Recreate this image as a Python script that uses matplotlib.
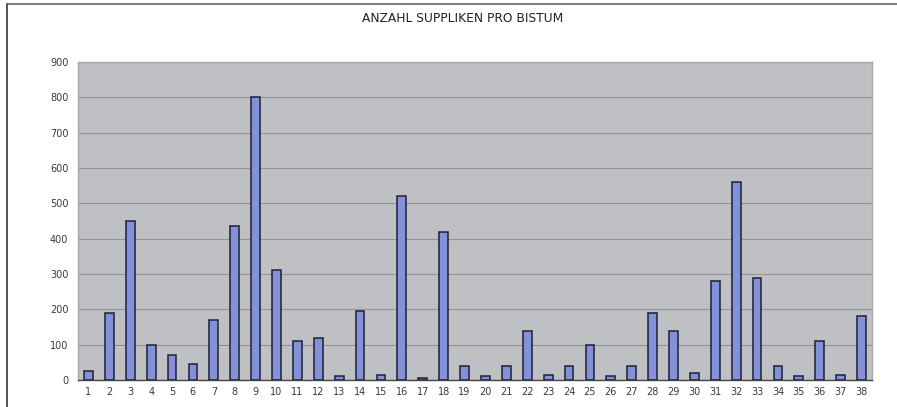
import numpy as np
import matplotlib
matplotlib.use("Agg")
import matplotlib.pyplot as plt
from matplotlib.lines import Line2D

# data
bistum = [str(i) for i in range(1, 39)]
suppliken = [25, 190, 450, 100, 70, 45, 170, 435, 800, 310,
             110, 120, 10, 195, 15, 520, 5, 420, 40, 10,
             40, 140, 15, 40, 100, 10, 40, 190, 140, 20,
             280, 560, 290, 40, 10, 110, 15, 180]
y_ticks = list(range(0, 1000, 100))

W, H = 897, 407
fig = plt.figure(figsize=(W / 100, H / 100), dpi=100)
ax = fig.add_axes([78 / W, (H - 380) / H, 794 / W, 318 / H])

x = np.arange(len(bistum))
ax.set_facecolor("#bfc0c4")
ax.set_axisbelow(True)
ax.yaxis.grid(True, color="#939397", linewidth=0.8)
ax.bar(x, suppliken, width=0.42, color="#8490d8", edgecolor="#1c1f36", linewidth=1.1, zorder=3)

ax.set_xlim(-0.5, len(bistum) - 0.5)
ax.set_ylim(0, 900)
ax.set_xticks(x)
ax.set_xticklabels(bistum)
ax.set_yticks(y_ticks)
ax.tick_params(axis="both", length=0, labelsize=7, colors="#3a3a3a", pad=7)
ax.tick_params(axis="x", pad=5)

for side in ["top", "right", "left"]:
    ax.spines[side].set_color("#a8a8a8")
    ax.spines[side].set_linewidth(1.0)
ax.spines["bottom"].set_color("#444444")
ax.spines["bottom"].set_linewidth(1.0)

fig.text(463 / W, 1 - 19 / H, "ANZAHL SUPPLIKEN PRO BISTUM", ha="center", va="center",
         fontsize=8.8, color="#222222")

# outer frame of the pasted chart
fig.add_artist(Line2D([6.5 / W, 6.5 / W], [0, 1 - 4 / H], color="#333333", linewidth=1.2))
fig.add_artist(Line2D([6.5 / W, 1], [1 - 4 / H, 1 - 4 / H], color="#666666", linewidth=1.2))

fig.savefig("out.png", dpi=100)
